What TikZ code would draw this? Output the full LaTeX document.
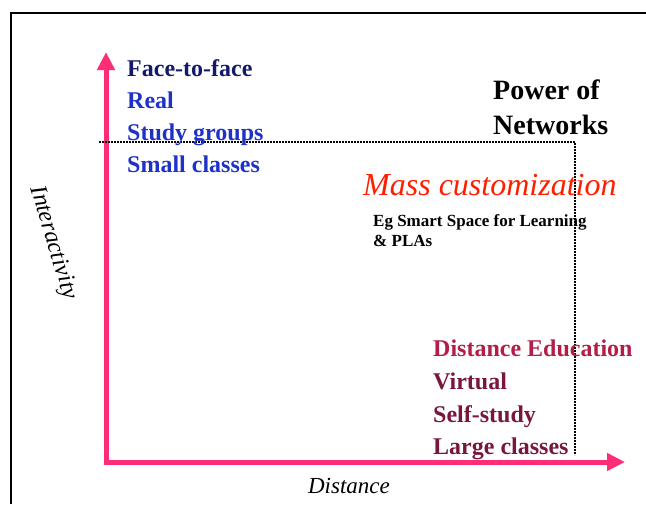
\documentclass[tikz,border=0pt]{standalone}
\usepackage{fontspec}
\setmainfont{Liberation Serif}
\usetikzlibrary{arrows.meta}

\definecolor{axispink}{RGB}{255,45,120}
\definecolor{navytext}{RGB}{20,25,105}
\definecolor{bluetext}{RGB}{30,50,200}
\definecolor{crimsontext}{RGB}{178,30,72}
\definecolor{maroontext}{RGB}{120,22,62}
\definecolor{masstext}{RGB}{255,30,0}

\tikzset{
  axis/.style={axispink, line width=5pt, -{Triangle[length=18pt,width=17pt]}},
  bound/.style={black, line width=1.3pt, dash pattern=on 2pt off 1pt},
  item/.style={anchor=base west, inner sep=0pt, font=\fontsize{24}{32}\selectfont\bfseries}
}

\begin{document}
\begin{tikzpicture}[x=1pt,y=-1pt]

\useasboundingbox (0,0) rectangle (646,504);

% Cadre
\draw[line width=2pt] (11,504) -- (11,13) -- (646,13);

% Axes
\coordinate (origin) at (106,462);
\coordinate (ytip) at (106,52);
\coordinate (xtip) at (625,462);
\draw[axis] (origin) -- (ytip);
\draw[axis] ([xshift=-2.5pt]origin) -- (xtip);

\node[rotate=-73, font=\fontsize{24}{24}\selectfont\itshape] (ylabel) at (53,243) {Interactivity};
\node[anchor=base, font=\fontsize{23}{23}\selectfont\itshape] (xlabel) at (349,493) {Distance};

% Limites
\coordinate (hstart) at (99,142);
\coordinate (corner) at (575,142);
\coordinate (vend) at (575,455);
\draw[bound] (hstart) -- (corner) -- (vend);

% Proche
\node[item, navytext] (face) at (127,76) {Face-to-face};
\node[item, bluetext] (real) at (127,108) {Real};
\node[item, bluetext] (study) at (127,140) {Study groups};
\node[item, bluetext] (small) at (127,172) {Small classes};

% Reseaux
\node[anchor=base west, inner sep=0pt, font=\fontsize{28}{35}\selectfont\bfseries] (power) at (493,99) {Power of};
\node[anchor=base west, inner sep=0pt, font=\fontsize{28}{35}\selectfont\bfseries] (networks) at (493,134) {Networks};

\node[anchor=base west, inner sep=0pt, masstext, font=\fontsize{32}{32}\selectfont\itshape] (mass) at (363,195) {Mass customization};
\node[anchor=base west, inner sep=0pt, font=\fontsize{17}{21}\selectfont\bfseries] (eg) at (373,226) {Eg Smart Space for Learning};
\node[anchor=base west, inner sep=0pt, font=\fontsize{17}{21}\selectfont\bfseries] (plas) at (373,246) {\& PLAs};

% Distance
\node[item, crimsontext] (distedu) at (433,356) {Distance Education};
\node[item, maroontext] (virtual) at (433,389) {Virtual};
\node[item, maroontext] (self) at (433,422) {Self-study};
\node[item, maroontext] (large) at (433,454) {Large classes};

\end{tikzpicture}
\end{document}
